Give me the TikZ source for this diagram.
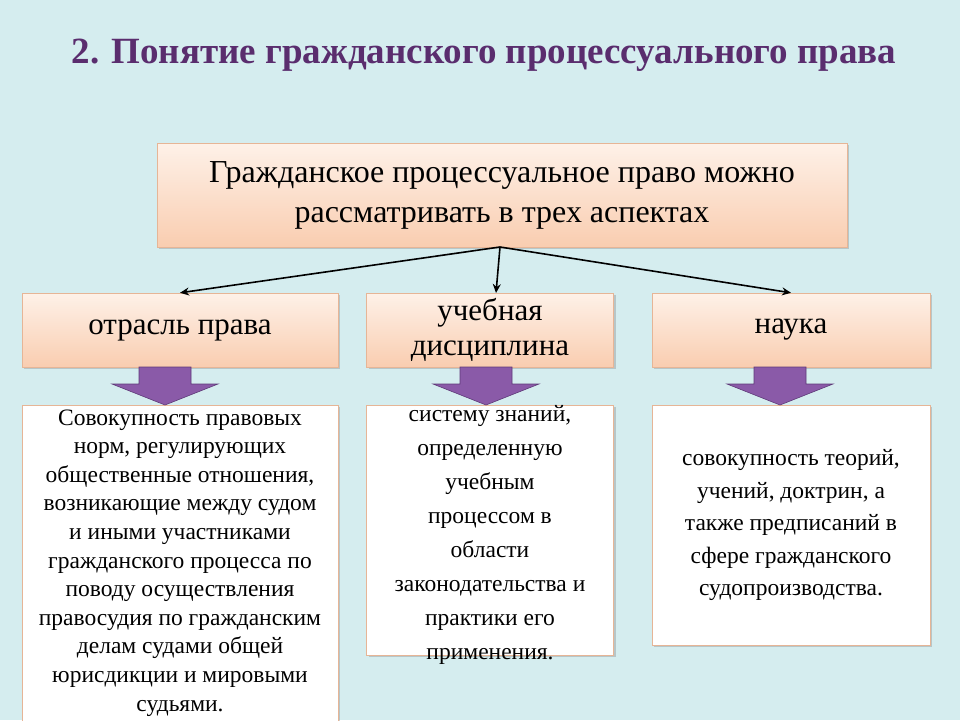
\documentclass[tikz,border=0pt]{standalone}
\usepackage{fontspec}
\setmainfont{Liberation Serif}
\usetikzlibrary{shadows,arrows.meta}
\definecolor{bg}{HTML}{D5EDEF}
\definecolor{ttl}{HTML}{5A2D6E}
\definecolor{pch1}{HTML}{FEF1E8}
\definecolor{pch2}{HTML}{F9CDB0}
\definecolor{bord}{HTML}{E6B596}
\definecolor{purp}{HTML}{8A5AA8}
\definecolor{purpd}{HTML}{5E3A78}
\tikzset{
 peach/.style={draw=bord, top color=pch1, bottom color=pch2, drop shadow={shadow xshift=2pt,shadow yshift=-2pt,opacity=0.35}, align=center, inner sep=0pt},
 whitebox/.style={draw=bord, line width=0.8pt, fill=white, drop shadow={shadow xshift=2pt,shadow yshift=-2pt,opacity=0.35}, align=center, inner sep=0pt},
 conn/.style={-{Stealth[length=9pt,width=8pt]}, line width=1.6pt},
 darrow/.style={fill=purp, draw=purpd, line width=0.6pt}
}
\begin{document}
\begin{tikzpicture}[x=1pt,y=-1pt]
\fill[bg] (0,0) rectangle (960,720);
\useasboundingbox (0,0) rectangle (960,720);
\node[text=ttl, font=\bfseries\fontsize{37}{40}\selectfont] (title) at (484,55) {2. Понятие гражданского процессуального права};
\node[peach, minimum width=690, minimum height=104, font=\fontsize{32}{40}\selectfont] (top) at (502,195) {Гражданское процессуальное право можно\\рассматривать в трех аспектах};
\node[peach, minimum width=316, minimum height=74, font=\fontsize{31}{35}\selectfont] (b1) at (180,330) {отрасль права};
\node[peach, minimum width=247, minimum height=74, font=\fontsize{31}{35}\selectfont] (b2) at (490,330) {учебная\\дисциплина};
\node[peach, minimum width=278, minimum height=74, font=\fontsize{31}{35}\selectfont] (b3) at (791,330) {наука};
\coordinate (c) at (500,247);
\coordinate (e2) at (496,293);
\draw[conn] (c) -- (b1.north);
\draw[conn] (c) -- (e2);
\draw[conn] (c) -- (b3.north);
\node[whitebox, minimum width=316, minimum height=330, anchor=north] (d1) at (180,405) {};
\node[align=center, font=\fontsize{23.5}{28.6}\selectfont, anchor=north] (t1) at (180,406) {Совокупность правовых\\норм, регулирующих\\общественные отношения,\\возникающие между судом\\и иными участниками\\гражданского процесса по\\поводу осуществления\\правосудия по гражданским\\делам судами общей\\юрисдикции и мировыми\\судьями.};
\node[whitebox, minimum width=247, minimum height=250, anchor=north] (d2) at (490,405) {};
\node[align=center, font=\fontsize{23.5}{34}\selectfont, anchor=north] (t2) at (490,402) {систему знаний,\\определенную\\учебным\\процессом в\\области\\законодательства и\\практики его\\применения.};
\node[whitebox, minimum width=278, minimum height=240, anchor=north, font=\fontsize{23.5}{32.5}\selectfont] (d3) at (791,405) {совокупность теорий,\\учений, доктрин, а\\также предписаний в\\сфере гражданского\\судопроизводства.};
\foreach \cx in {165,486,780}{
 \draw[darrow] (\cx-26,367) -- (\cx+26,367) -- (\cx+26,384) -- (\cx+53,384) -- (\cx,405) -- (\cx-53,384) -- (\cx-26,384) -- cycle;
}
\end{tikzpicture}
\end{document}
